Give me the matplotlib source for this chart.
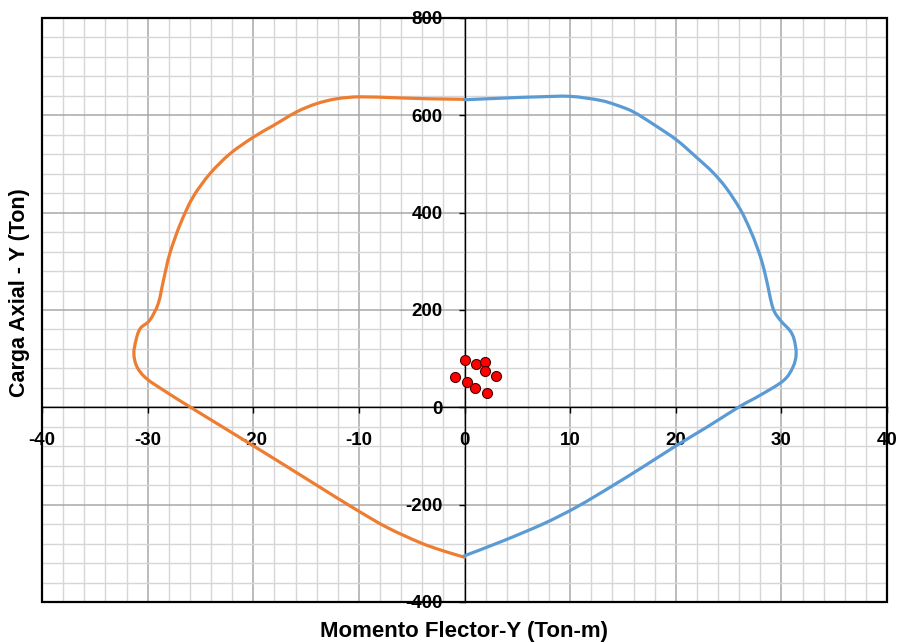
import numpy as np
import matplotlib
matplotlib.use('Agg')
import matplotlib.pyplot as plt
from matplotlib.patches import Rectangle, PathPatch
from matplotlib.path import Path

plt.rcParams['axes.unicode_minus'] = False

# Interaction diagram data
orange_x = [0, -3.3, -6.4, -9.9, -12.1, -14.0, -15.9, -18.1, -20.0, -22.2, -24.1, -25.7,
            -26.9, -27.9, -28.5, -29.0, -29.8, -30.7, -31.1, -31.3, -31.0, -30.1, -28.2,
            -26.0, -23.0, -20.0, -16.8, -13.7, -10.5, -7.4, -4.2, -2.0, 0]
orange_y = [633, 634, 636, 638, 634, 624, 607, 579, 555, 521, 480, 432,
            377, 316, 261, 213, 179, 162, 138, 110, 83, 59, 31,
            1, -39, -79, -122, -164, -207, -246, -278, -295, -308]

blue_x = [0, 4.3, 7.0, 10.0, 12.8, 14.4, 16.0, 18.0, 20.1, 22.0, 23.5, 24.8, 26.1, 27.0,
          27.7, 28.2, 28.6, 29.2, 29.9, 30.8, 31.2, 31.4, 31.1, 30.2, 28.0, 26.0, 23.0,
          20.1, 17.0, 13.8, 10.6, 7.5, 3.7, 0]
blue_y = [632, 636, 638, 639, 631, 621, 607, 580, 549, 513, 483, 450, 407, 367,
          329, 296, 261, 204, 179, 158, 140, 110, 83, 55, 25, 1, -40,
          -78, -121, -164, -205, -239, -274, -305]

pts_x = [0.0, 1.1, 1.9, 1.9, 3.0, -0.9, 0.2, 1.0, 2.1]
pts_y = [97, 89, 94, 74, 64, 62, 52, 40, 29]

x_major = np.arange(-40, 41, 10)
x_minor = np.arange(-40, 41, 2)
y_major = np.arange(-400, 801, 200)
y_minor = np.arange(-400, 801, 40)


def smooth_path(xs, ys):
    # Excel-style smoothed line: cubic Bezier segments through the points
    p = np.column_stack([xs, ys]).astype(float)
    n = len(p)
    verts = [p[0]]
    codes = [Path.MOVETO]
    for i in range(n - 1):
        prev = p[i - 1] if i > 0 else p[i]
        nxt = p[i + 2] if i + 2 < n else p[i + 1]
        c1 = p[i] + (p[i + 1] - prev) / 6.0
        c2 = p[i + 1] - (nxt - p[i]) / 6.0
        verts += [c1, c2, p[i + 1]]
        codes += [Path.CURVE4] * 3
    return Path(verts, codes)


fig = plt.figure(figsize=(8.99, 6.43), dpi=100)
W, H = 899, 643
ax = fig.add_axes([42 / W, 1 - 602 / H, 845 / W, 584 / H])
ax.set_xlim(-40, 40)
ax.set_ylim(-400, 800)

ax.set_xticks(x_major)
ax.set_xticks(x_minor, minor=True)
ax.set_yticks(y_major)
ax.set_yticks(y_minor, minor=True)
ax.grid(which='minor', color='#D6D6D6', lw=1.0, zorder=0)
ax.grid(which='major', color='#A8A8A8', lw=1.1, zorder=0)
ax.set_axisbelow(True)

# axes crossing at the origin
for side in ['top', 'right']:
    ax.spines[side].set_visible(False)
ax.spines['left'].set_position(('data', 0))
ax.spines['bottom'].set_position(('data', 0))
for side in ['left', 'bottom']:
    ax.spines[side].set_color('black')
    ax.spines[side].set_linewidth(1.0)
    ax.spines[side].set_zorder(1.5)

ax.tick_params(which='minor', length=0)
ax.tick_params(which='major', direction='out', length=4.5, width=1.0, color='black',
               labelsize=13.5)
ax.tick_params(axis='x', pad=13)
ax.tick_params(axis='y', pad=11)
for lab in ax.get_xticklabels() + ax.get_yticklabels():
    lab.set_fontfamily('Liberation Sans')
    lab.set_fontweight('bold')

# outer frame of the plot area
ax.add_patch(Rectangle((0, 0), 1, 1, transform=ax.transAxes, fill=False,
                       ec='black', lw=1.6, clip_on=False, zorder=3))

ax.add_patch(PathPatch(smooth_path(orange_x, orange_y), fill=False, ec='#ED7D31',
                       lw=2.3, capstyle='round', joinstyle='round', zorder=2))
ax.add_patch(PathPatch(smooth_path(blue_x, blue_y), fill=False, ec='#5B9BD5',
                       lw=2.3, capstyle='round', joinstyle='round', zorder=2))
ax.plot(pts_x, pts_y, 'o', ms=7.2, mfc='#FF0000', mec='#4A0000', mew=0.8, zorder=4)

fig.text(464.5 / W, 1 - 632 / H, 'Momento Flector-Y (Ton-m)', ha='center', va='center',
         fontsize=16, fontweight='bold', family='Liberation Sans')
fig.text(20 / W, 1 - 293 / H, 'Carga Axial - Y (Ton)', ha='center', va='center',
         rotation=90, fontsize=15.5, fontweight='bold', family='Liberation Sans')

fig.savefig('out.png', dpi=100)
